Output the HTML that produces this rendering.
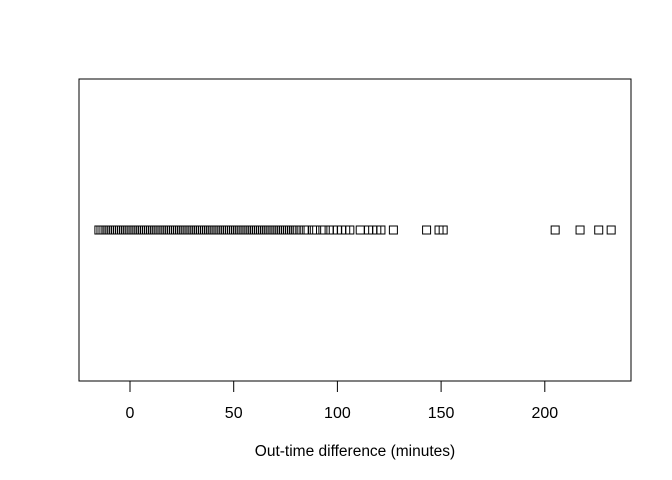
<!DOCTYPE html>
<html><head><meta charset="utf-8"><style>
html,body{margin:0;padding:0;background:#fff;}
svg{display:block;font-family:"Liberation Sans",Arial,sans-serif;}
</style></head><body>
<svg id="chart" width="672" height="480">
<rect x="79" y="79" width="552" height="302" fill="none" stroke="#000" stroke-width="1"/>
<g id="ticks"></g>
<g id="pts"></g>
<text x="355" y="456" text-anchor="middle" font-size="15.5" fill="#000">Out-time difference (minutes)</text>
</svg>
<script>
const values = [-15,-14,-13,-12,-11,-10,-9,-8,-7,-6,-5,-4,-3,-2,-1,0,1,2,3,4,5,6,7,8,9,10,11,12,13,14,15,16,17,18,19,20,21,22,23,24,25,26,27,28,29,30,31,32,33,34,35,36,37,38,39,40,41,42,43,44,45,46,47,48,49,50,51,52,53,54,55,56,57,58,59,60,61,62,63,64,65,66,67,68,69,70,71,72,73,74,75,76,77,78,79,80,82,84,85,88,90,93,96,98,100,102,104,106,111,115,117,119,121,127,143,149,151,205,217,226,232];
const tickValues = [0,50,100,150,200];
const tickLabels = ["0","50","100","150","200"];
const x0 = 130, scale = 2.074, yStrip = 230;
function xs(v){return x0 + v*scale;}
const NS = "http://www.w3.org/2000/svg";
const tg = document.getElementById('ticks');
const line = document.createElementNS(NS,'line');
line.setAttribute('x1', xs(tickValues[0])); line.setAttribute('x2', xs(tickValues[tickValues.length-1]));
line.setAttribute('y1', 381); line.setAttribute('y2', 381); line.setAttribute('stroke','#000');


tg.appendChild(line);
tickValues.forEach((v,i)=>{
  const t = document.createElementNS(NS,'line');
  t.setAttribute('x1', xs(v)); t.setAttribute('x2', xs(v));
  t.setAttribute('y1', 381); t.setAttribute('y2', 392); t.setAttribute('stroke','#000');
  
  
  tg.appendChild(t);
  const l = document.createElementNS(NS,'text');
  l.setAttribute('x', xs(v)); l.setAttribute('y', 418);
  l.setAttribute('text-anchor','middle'); l.setAttribute('font-size','16');
  l.textContent = tickLabels[i];
  
  
  tg.appendChild(l);
});
const pg = document.getElementById('pts');
values.forEach(v=>{
  const r = document.createElementNS(NS,'rect');
  r.setAttribute('x', xs(v)-4); r.setAttribute('y', yStrip-4);
  r.setAttribute('width', 8); r.setAttribute('height', 8);
  r.setAttribute('fill','none'); r.setAttribute('stroke','#000');
  
  
  pg.appendChild(r);
});
</script>
</body></html>
